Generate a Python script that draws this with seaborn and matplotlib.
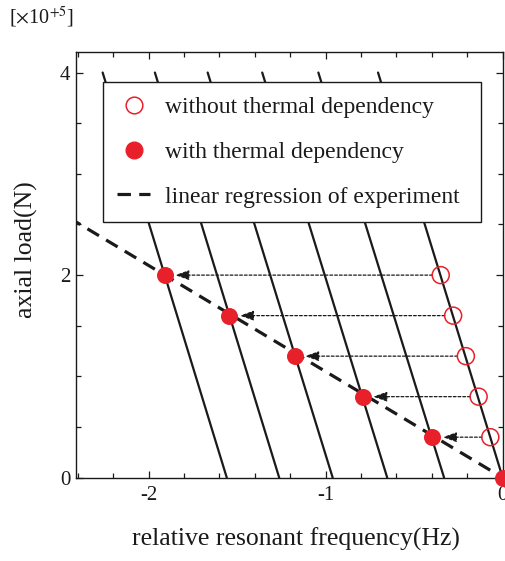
import numpy as np
import pandas as pd
import matplotlib
matplotlib.use("Agg")
import matplotlib.pyplot as plt
import seaborn as sns
from matplotlib.ticker import MultipleLocator
from matplotlib.lines import Line2D

# ---- data (load in units of 1e5 N, frequency in Hz) ----
load_levels = [0.0, 0.4, 0.8, 1.2, 1.6, 2.0]
freq_with = [0.0, -0.397, -0.790, -1.175, -1.543, -1.908]
load_without = [0.4, 0.8, 1.2, 1.6, 2.0]
freq_without = [-0.070, -0.136, -0.208, -0.280, -0.350]

# parallel iso-temperature lines: x at load 0 and x at load 4
line_x_bottom = [0.0, -0.331, -0.652, -0.960, -1.262, -1.558]
line_x_top = [-0.704, -1.041, -1.358, -1.666, -1.964, -2.259]
line_y = [0.0, 4.0]

# linear regression of experiment
reg_slope = -1.048   # 1e5 N per Hz
reg_x = [-2.45, 0.0]

legend_labels = ["without thermal dependency", "with thermal dependency",
                 "linear regression of experiment"]

# ---- style ----
sns.set_theme(style="ticks")
plt.rcParams['font.family'] = ['Liberation Serif', 'DejaVu Serif']
plt.rcParams['mathtext.fontset'] = 'stix'
ink = "#1a1a1a"
red = "#e8202a"

fig = plt.figure(figsize=(5.06, 5.61), dpi=100)
ax = fig.add_axes([0.150, 0.1485, 0.8435, 0.7583])

# solid lines
rows = []
for i, (xb, xt) in enumerate(zip(line_x_bottom, line_x_top)):
    rows.append({"line": i, "x": xb, "y": line_y[0]})
    rows.append({"line": i, "x": xt, "y": line_y[1]})
lines_df = pd.DataFrame(rows)
sns.lineplot(data=lines_df, x="x", y="y", units="line", estimator=None,
             color=ink, lw=1.6, sort=False, ax=ax, legend=False)

# regression line
reg_df = pd.DataFrame({"x": reg_x, "y": [reg_slope * v for v in reg_x]})
sns.lineplot(data=reg_df, x="x", y="y", color=ink, lw=2.3,
             linestyle=(0, (4.2, 2.6)), ax=ax, legend=False)

# arrows from open to filled
for fo, fw, ld in zip(freq_without, freq_with[1:], load_without):
    ax.annotate("", xy=(fw, ld), xytext=(fo, ld),
                arrowprops=dict(arrowstyle="-|>,head_length=0.7,head_width=0.25",
                                color=ink, lw=0.9, linestyle=(0, (2.2, 1.6)),
                                shrinkA=6, shrinkB=7.5))

sns.scatterplot(x=freq_without, y=load_without, marker="o", s=150,
                facecolor="none", edgecolor=red, linewidth=1.1, ax=ax,
                zorder=5, clip_on=False)
sns.scatterplot(x=freq_with, y=load_levels, marker="o", s=150,
                color=red, edgecolor=red, linewidth=0, ax=ax,
                zorder=6, clip_on=False)

ax.set_xlim(-2.41, 0.0)
ax.set_ylim(0, 4.2)
ax.xaxis.set_minor_locator(MultipleLocator(0.2))
ax.yaxis.set_minor_locator(MultipleLocator(0.5))
ax.set_xticks([-2, -1, 0])
ax.set_xticklabels(["-2", "-1", "0"])
ax.set_yticks([0, 2, 4])
ax.set_yticklabels(["0", "2", "4"])
ax.tick_params(which="both", direction="in", top=True, right=True,
               labelsize=15, color=ink, labelcolor=ink, width=0.9)
ax.tick_params(which="major", length=5, pad=6)
ax.tick_params(axis="y", which="major", pad=4)
ax.tick_params(which="minor", length=3.5)
for s in ax.spines.values():
    s.set_color(ink)
    s.set_linewidth(1.0)

ax.set_xlabel("relative resonant frequency(Hz)", fontsize=18.5, color=ink)
ax.xaxis.set_label_coords(0.515, -0.118)
ax.set_ylabel("axial load(N)", fontsize=18.5, color=ink)
ax.yaxis.set_label_coords(-0.088, 0.535)
fig.text(0.018, 0.957, r"[$\times$10$^{+5}$]", fontsize=14.5, color=ink)

h1 = Line2D([], [], marker="o", ls="none", markersize=12, markerfacecolor="none",
            markeredgecolor=red, markeredgewidth=1.1)
h2 = Line2D([], [], marker="o", ls="none", markersize=12, markerfacecolor=red,
            markeredgecolor=red)
h3 = Line2D([], [], color=ink, lw=2.3, ls=(0, (4.2, 2.6)))
leg = ax.legend([h1, h2, h3], legend_labels,
                loc="upper left", bbox_to_anchor=(0.064, 0.929, 0.884, 0.0), mode="expand",
                borderaxespad=0, fontsize=17, frameon=True, fancybox=False,
                edgecolor=ink, framealpha=1, labelspacing=0.98,
                handlelength=1.4, handletextpad=0.6, borderpad=0.6)
leg.get_frame().set_linewidth(1.0)
for t in leg.get_texts():
    t.set_color(ink)
leg.set_zorder(10)

fig.savefig("out.png", dpi=100)
